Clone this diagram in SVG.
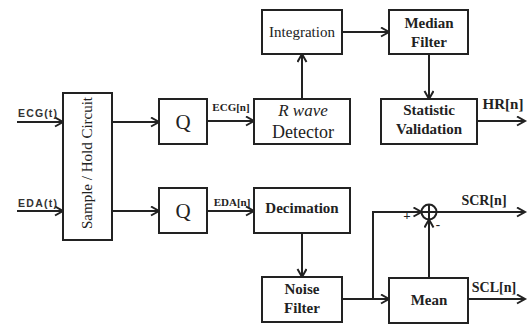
<svg xmlns="http://www.w3.org/2000/svg" width="530" height="327" viewBox="0 0 530 327">
<style>
.box{fill:#fff;stroke:#222;stroke-width:2}
.ln{fill:none;stroke:#222;stroke-width:2}
.arr{fill:none;stroke:#222;stroke-width:2;marker-end:url(#ah)}
.t{font-family:"Liberation Serif","Times New Roman",serif;fill:#222;text-anchor:middle}
.b{font-weight:bold}
.s{font-family:"Liberation Sans",Arial,sans-serif;fill:#333;font-size:10.5px}
</style>
<defs>
<marker id="ah" markerWidth="12" markerHeight="12" refX="9" refY="5" orient="auto" markerUnits="userSpaceOnUse">
<path d="M1,0.5 L9,5 L1,9.5" fill="none" stroke="#222" stroke-width="2"/>
</marker>
</defs>
<rect width="530" height="327" fill="#fff"/>
<g id="connectors">
<line class="arr" x1="17" y1="122" x2="63" y2="122"/>
<line class="arr" x1="17" y1="211" x2="63" y2="211"/>
<line class="arr" x1="112" y1="122" x2="159" y2="122"/>
<line class="arr" x1="112" y1="211" x2="159" y2="211"/>
<line class="arr" x1="207" y1="121" x2="254" y2="121"/>
<line class="arr" x1="302" y1="99" x2="302" y2="54"/>
<line class="arr" x1="342" y1="32" x2="389" y2="32"/>
<line class="arr" x1="429" y1="54" x2="429" y2="99"/>
<line class="arr" x1="477" y1="121" x2="525" y2="121"/>
<line class="arr" x1="207" y1="211" x2="254" y2="211"/>
<line class="arr" x1="302" y1="233" x2="302" y2="277"/>
<line class="arr" x1="342" y1="299" x2="389" y2="299"/>
<polyline class="arr" points="373,299 373,212 421.5,212"/>
<line class="arr" x1="429" y1="278" x2="429" y2="219.5"/>
<line class="arr" x1="436.5" y1="212" x2="525" y2="212"/>
<line class="arr" x1="468" y1="299" x2="525" y2="299"/>
<text class="s" x="18" y="117" textLength="39" font-weight="bold">ECG(t)</text>
<text class="s" x="18" y="207" textLength="39" font-weight="bold">EDA(t)</text>
<text class="t b" x="231" y="111" font-size="11">ECG[n]</text>
<text class="t b" x="232" y="206" font-size="11">EDA[n]</text>
<text class="t b" x="503" y="109" font-size="15">HR[n]</text>
<text class="t b" x="484" y="205" font-size="14">SCR[n]</text>
<text class="t b" x="494" y="292" font-size="14">SCL[n]</text>
<text class="t b" x="407" y="220" font-size="13">+</text>
<text class="t b" x="438" y="229" font-size="13">-</text>
</g>
<g id="sum">
<circle cx="429" cy="212" r="7.5" class="box"/>
<line class="ln" x1="421.5" y1="212" x2="436.5" y2="212"/>
<line class="ln" x1="429" y1="204.5" x2="429" y2="219.5"/>
</g>
<g id="samplehold">
<rect class="box" x="63" y="93" width="49" height="147"/>
<text class="t" font-size="15" transform="translate(92,163) rotate(-90)">Sample / Hold Circuit</text>
</g>
<g id="q1">
<rect class="box" x="159" y="99" width="48" height="45"/>
<text class="t" x="183" y="129" font-size="21">Q</text>
</g>
<g id="q2">
<rect class="box" x="159" y="188" width="48" height="45"/>
<text class="t" x="183" y="218" font-size="21">Q</text>
</g>
<g id="rwave">
<rect class="box" x="254" y="99" width="96" height="45"/>
<text class="t" x="303" y="116" font-size="17" font-style="italic">R wave</text>
<text class="t" x="303" y="138" font-size="18">Detector</text>
</g>
<g id="integration">
<rect class="box" x="262" y="10" width="80" height="44"/>
<text class="t" x="302" y="37" font-size="15">Integration</text>
</g>
<g id="median">
<rect class="box" x="389" y="10" width="79" height="44"/>
<text class="t b" x="429" y="28" font-size="15">Median</text>
<text class="t b" x="429" y="47" font-size="15">Filter</text>
</g>
<g id="statistic">
<rect class="box" x="381" y="99" width="96" height="45"/>
<text class="t b" x="429" y="115" font-size="15">Statistic</text>
<text class="t b" x="429" y="134" font-size="15">Validation</text>
</g>
<g id="decimation">
<rect class="box" x="254" y="188" width="96" height="45"/>
<text class="t b" x="302" y="213" font-size="15">Decimation</text>
</g>
<g id="noise">
<rect class="box" x="262" y="277" width="80" height="45"/>
<text class="t b" x="302" y="294" font-size="15">Noise</text>
<text class="t b" x="302" y="313" font-size="15">Filter</text>
</g>
<g id="mean">
<rect class="box" x="389" y="278" width="79" height="45"/>
<text class="t b" x="429" y="305" font-size="15">Mean</text>
</g>
</svg>
